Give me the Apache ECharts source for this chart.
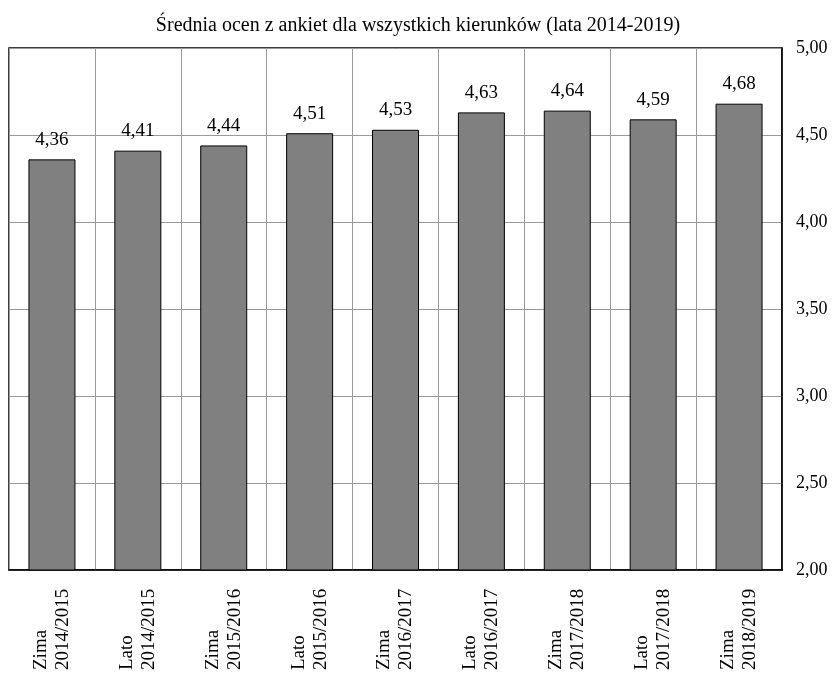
<!DOCTYPE html>
<html>
<head>
<meta charset="utf-8">
<script src="https://cdn.jsdelivr.net/npm/echarts@6/dist/echarts.min.js"></script>
<style>
  html, body { margin: 0; padding: 0; background: #fff; }
  #chart { width: 835px; height: 673px; }
</style>
</head>
<body>
<div id="chart"></div>
<script>
const seasons = ['Zima', 'Lato', 'Zima', 'Lato', 'Zima', 'Lato', 'Zima', 'Lato', 'Zima'];
const years = ['2014/2015', '2014/2015', '2015/2016', '2015/2016', '2016/2017', '2016/2017', '2017/2018', '2017/2018', '2018/2019'];
const averages = [4.36, 4.41, 4.44, 4.51, 4.53, 4.63, 4.64, 4.59, 4.68];

const categories = seasons.map((s, i) => s + '\n' + years[i]);
const font = '"Liberation Serif", "Times New Roman", serif';
const comma = (v) => v.toFixed(2).replace('.', ',');

let chart = echarts.init(document.getElementById('chart'));

const option = {
  animation: false,
  title: {
    text: 'Średnia ocen z ankiet dla wszystkich kierunków (lata 2014-2019)',
    left: 413,
    textAlign: 'center',
    top: 11,
    textStyle: { fontFamily: font, fontSize: 20, fontWeight: 'normal', color: '#000' },
  },
  grid: {
    left: 9,
    right: 53,
    top: 48,
    bottom: 101,
    show: true,
    borderColor: '#000',
    borderWidth: 1.5,
  },
  xAxis: {
    type: 'category',
    data: categories,
    axisLine: { show: true, lineStyle: { color: '#000', width: 1.5 } },
    axisTick: { show: false },
    splitLine: { show: true, interval: 0, lineStyle: { color: '#999', width: 1 } },
    axisLabel: {
      interval: 0,
      rotate: 90,
      margin: 16,
      formatter: (v) => v.split('\n').map((t) => '{a|' + t + '}').join('\n'),
      rich: {
        a: { width: 84, align: 'left', fontFamily: font, fontSize: 19, color: '#000', lineHeight: 22 },
      },
    },
  },
  yAxis: {
    type: 'value',
    position: 'right',
    min: 2,
    max: 5,
    interval: 0.5,
    axisLine: { show: true, lineStyle: { color: '#000', width: 1.5 } },
    axisTick: { show: false },
    splitLine: { show: true, lineStyle: { color: '#999', width: 1 } },
    axisLabel: {
      margin: 14,
      formatter: comma,
      fontFamily: font,
      fontSize: 18,
      color: '#000',
    },
  },
  series: [
    {
      type: 'bar',
      data: averages,
      barWidth: 47,
      itemStyle: { color: '#808080', borderColor: '#000', borderWidth: 1 },
      label: {
        show: true,
        position: 'top',
        distance: 10,
        formatter: (p) => comma(p.value),
        fontFamily: font,
        fontSize: 19,
        color: '#000',
      },
    },
  ],
};

chart.setOption(option);
</script>
</body>
</html>
